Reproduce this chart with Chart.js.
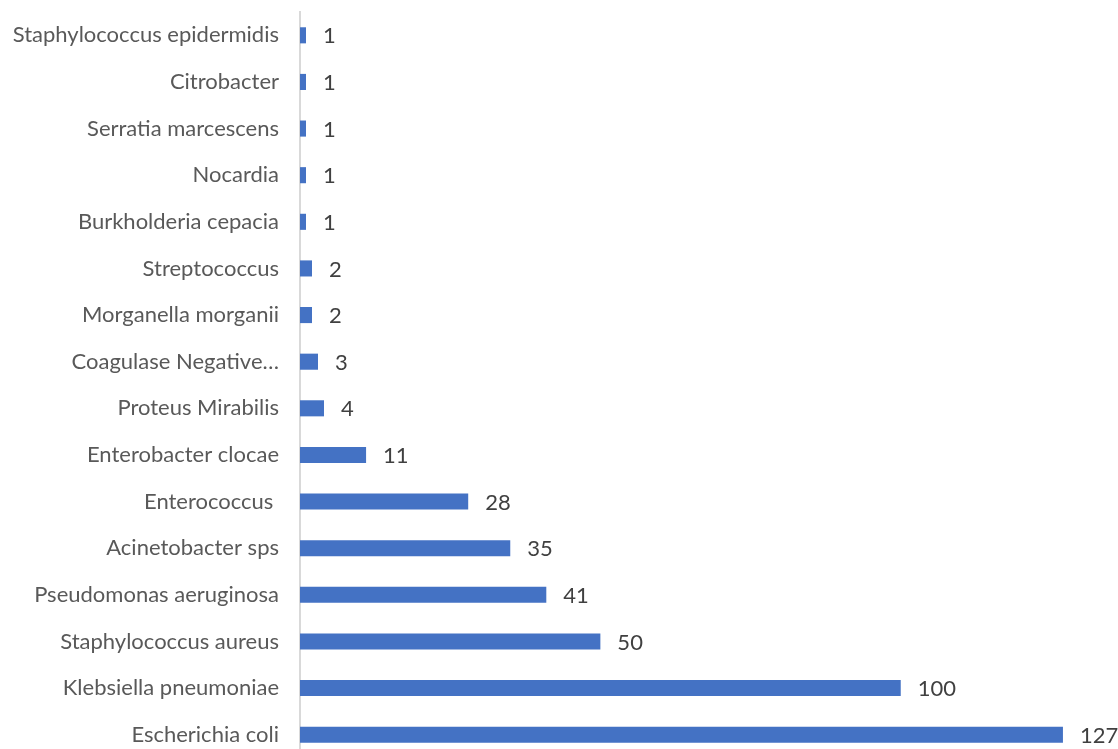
<!DOCTYPE html>
<html>
<head>
<meta charset="utf-8">
<title>Microorganismos aislados</title>
<script src="https://cdn.jsdelivr.net/npm/chart.js@4"></script>
<style>
  html, body { margin: 0; padding: 0; background: #ffffff; overflow: hidden; }
</style>
</head>
<body>
<canvas id="grafico-bacterias" width="1118" height="760"></canvas>
<script>
// categorias (de arriba hacia abajo)
const bacterias = [
  'Staphylococcus epidermidis',
  'Citrobacter',
  'Serratia marcescens',
  'Nocardia',
  'Burkholderia cepacia',
  'Streptococcus',
  'Morganella morganii',
  'Coagulase Negative…',
  'Proteus Mirabilis',
  'Enterobacter clocae',
  'Enterococcus ',
  'Acinetobacter sps',
  'Pseudomonas aeruginosa',
  'Staphylococcus aureus',
  'Klebsiella pneumoniae',
  'Escherichia coli'
];
const cantidades = [1, 1, 1, 1, 1, 2, 2, 3, 4, 11, 28, 35, 41, 50, 100, 127];

const fuente = "Lato, 'Open Sans', sans-serif";

// dibuja el numero al final de cada barra
const etiquetasValor = {
  id: 'etiquetasValor',
  afterDatasetsDraw: function (chart) {
    const c = chart.ctx;
    const meta = chart.getDatasetMeta(0);
    c.save();
    c.font = '22px ' + fuente;
    c.fillStyle = '#404040';
    c.textAlign = 'left';
    c.textBaseline = 'middle';
    meta.data.forEach(function (bar, i) {
      c.fillText(String(cantidades[i]), bar.x + 17, bar.y + 1);
    });
    c.restore();
  }
};

const ctx = document.getElementById('grafico-bacterias');
new Chart(ctx, {
  type: 'bar',
  data: {
    labels: bacterias,
    datasets: [{
      data: cantidades,
      backgroundColor: '#4472C4',
      borderWidth: 0,
      barPercentage: 0.345,
      categoryPercentage: 1
    }]
  },
  plugins: [etiquetasValor],
  options: {
    indexAxis: 'y',
    responsive: false,
    animation: false,
    layout: { padding: { top: 12, bottom: 2, left: 0, right: 7 } },
    plugins: {
      legend: { display: false },
      tooltip: { enabled: false }
    },
    scales: {
      x: {
        display: false,
        min: 0,
        max: 135
      },
      y: {
        afterFit: function (scale) {
          scale.width = 300;
          scale.paddingTop = 0;
          scale.paddingBottom = 0;
        },
        grid: { display: false, drawTicks: false },
        border: { display: true, color: '#d9d9d9', width: 2 },
        ticks: {
          padding: 21,
          autoSkip: false,
          color: '#595959',
          font: { family: fuente, size: 22 }
        }
      }
    }
  }
});
</script>
</body>
</html>
